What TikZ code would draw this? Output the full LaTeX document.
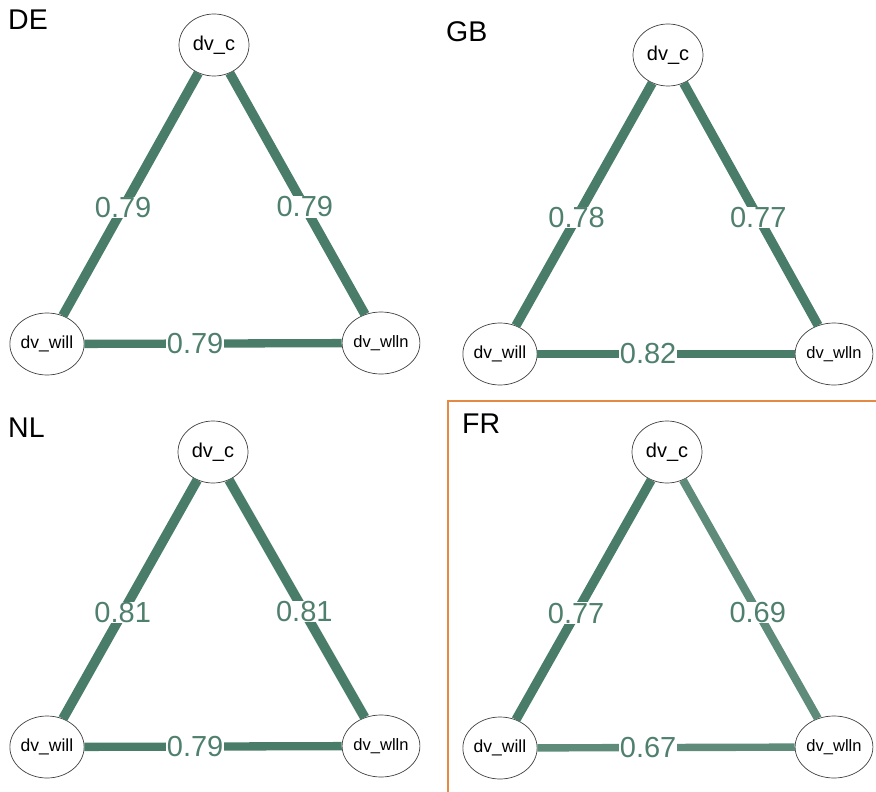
\documentclass[tikz,border=0pt]{standalone}
\usepackage{fontspec}
\setmainfont{Liberation Sans}
\usetikzlibrary{shapes.geometric}

\definecolor{edgedark}{HTML}{4A7D69}
\definecolor{edgelight}{HTML}{5F8C7A}
\definecolor{labelgreen}{HTML}{4F806D}
\definecolor{frameorange}{HTML}{E38B45}

\tikzset{
  var/.style={ellipse, draw=black!75, line width=0.7pt, fill=white,
    minimum width=70pt, minimum height=62pt, inner sep=0pt},
  conn/.style={draw=edgedark, line width=9.5pt},
  connlight/.style={draw=edgelight, line width=8.2pt},
  wlabel/.style={fill=white, inner sep=0.4pt, text=labelgreen,
    font=\fontsize{29}{29}\selectfont},
  ptitle/.style={anchor=base west, inner sep=0pt, font=\fontsize{28.5}{28.5}\selectfont},
  fc/.style={font=\fontsize{20}{20}\selectfont},
  fw/.style={font=\fontsize{17.5}{17.5}\selectfont},
  fn/.style={font=\fontsize{16.5}{16.5}\selectfont},
}

\begin{document}
\begin{tikzpicture}[x=1pt, y=-1pt]
  \useasboundingbox (0,0) rectangle (876,792);

  % frame around the FR panel (runs off the right and bottom edges)
  \draw[frameorange, line width=1.6pt] (876,401) -- (448,401) -- (448,792);

  % ---------- DE ----------
  \node[ptitle] (de-t) at (8,30) {DE};
  \node[var, fc] (de-c)    at (214,45)  {dv\_c};
  \node[var, fw] (de-will) at (47,344)  {dv\_will};
  \node[var, fn] (de-wlln) at (381,343) {dv\_wlln};
  \draw[conn] (de-c) -- node[wlabel, pos=0.555] {0.79} (de-will);
  \draw[conn] (de-c) -- node[wlabel, pos=0.555] {0.79} (de-wlln);
  \draw[conn, line width=8.3pt] (de-will) -- node[wlabel, pos=0.43] {0.79} (de-wlln);

  % ---------- GB ----------
  \node[ptitle] (gb-t) at (446,42) {GB};
  \node[var, fc] (gb-c)    at (668,55)  {dv\_c};
  \node[var, fw] (gb-will) at (500,354) {dv\_will};
  \node[var, fn] (gb-wlln) at (834,354) {dv\_wlln};
  \draw[conn, line width=9.4pt] (gb-c) -- node[wlabel, pos=0.555] {0.78} (gb-will);
  \draw[conn, line width=9.3pt] (gb-c) -- node[wlabel, pos=0.555] {0.77} (gb-wlln);
  \draw[conn, line width=8.7pt] (gb-will) -- node[wlabel, pos=0.43] {0.82} (gb-wlln);

  % ---------- NL ----------
  \node[ptitle] (nl-t) at (8,437) {NL};
  \node[var, fc] (nl-c)    at (213,452) {dv\_c};
  \node[var, fw] (nl-will) at (47,747)  {dv\_will};
  \node[var, fn] (nl-wlln) at (381,746) {dv\_wlln};
  \draw[conn, line width=9.7pt] (nl-c) -- node[wlabel, pos=0.555] {0.81} (nl-will);
  \draw[conn, line width=9.7pt] (nl-c) -- node[wlabel, pos=0.555] {0.81} (nl-wlln);
  \draw[conn, line width=8.3pt] (nl-will) -- node[wlabel, pos=0.43] {0.79} (nl-wlln);

  % ---------- FR ----------
  \node[ptitle] (fr-t) at (462,433) {FR};
  \node[var, fc] (fr-c)    at (667,452) {dv\_c};
  \node[var, fw] (fr-will) at (500,748) {dv\_will};
  \node[var, fn] (fr-wlln) at (834,747) {dv\_wlln};
  \draw[conn, line width=9.3pt] (fr-c) -- node[wlabel, pos=0.555] {0.77} (fr-will);
  \draw[connlight] (fr-c) -- node[wlabel, pos=0.555] {0.69} (fr-wlln);
  \draw[connlight, line width=7.4pt] (fr-will) -- node[wlabel, pos=0.43] {0.67} (fr-wlln);
\end{tikzpicture}
\end{document}
